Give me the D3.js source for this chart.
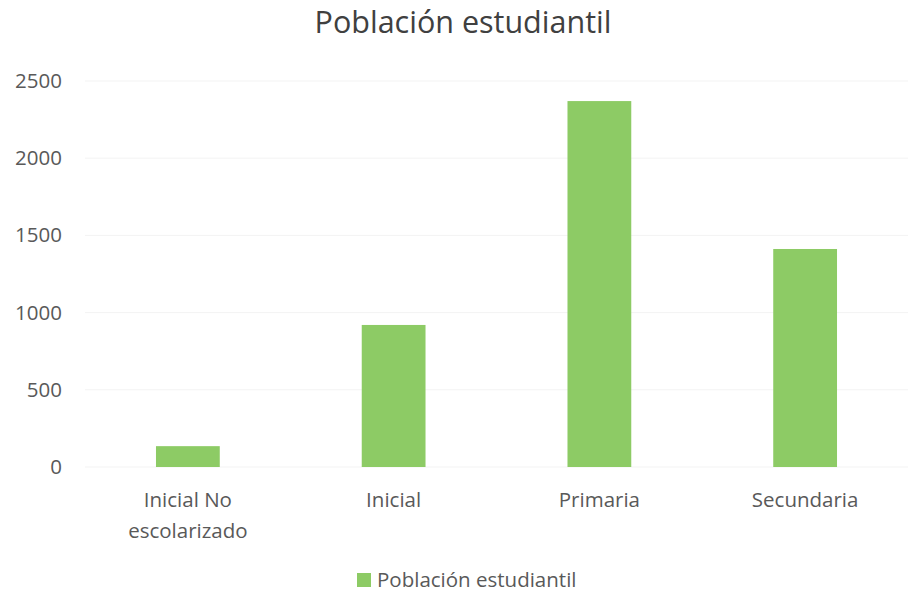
<!DOCTYPE html>
<html>
<head>
<meta charset="utf-8">
<script src="https://cdn.jsdelivr.net/npm/d3@7"></script>
<style>
  body { margin: 0; background: #fff; }
  text { font-family: "Open Sans", Lato, sans-serif; }
</style>
</head>
<body>
<div id="chart"></div>
<script>
const categories = ["Inicial No escolarizado", "Inicial", "Primaria", "Secundaria"];
const categoryLines = [["Inicial No", "escolarizado"], ["Inicial"], ["Primaria"], ["Secundaria"]];
const values = [135, 920, 2370, 1412];
const yTicks = [0, 500, 1000, 1500, 2000, 2500];
const seriesName = "Población estudiantil";
const chartTitle = "Población estudiantil";

const width = 921, height = 595;
const margin = { top: 81, right: 13, bottom: 128, left: 85 };
const innerW = width - margin.left - margin.right;
const innerH = height - margin.top - margin.bottom;
const barColor = "#8dcb65";
const textColor = "#595959";

const svg = d3.select("#chart").append("svg")
  .attr("width", width)
  .attr("height", height);

const g = svg.append("g")
  .attr("transform", `translate(${margin.left},${margin.top})`);

const x = d3.scaleBand()
  .domain(categories)
  .range([0, innerW])
  .paddingInner(0.69)
  .paddingOuter(0.345);

const y = d3.scaleLinear()
  .domain([0, 2500])
  .range([innerH, 0]);

// faint gridlines
g.selectAll(".grid")
  .data(yTicks)
  .join("line")
  .attr("x1", 0)
  .attr("x2", innerW)
  .attr("y1", d => y(d))
  .attr("y2", d => y(d))
  .attr("stroke", "#f3f3f3")
  .attr("stroke-width", 1);

// y axis labels
const yAxis = g.append("g")
  .call(d3.axisLeft(y).tickValues(yTicks).tickFormat(d3.format("d")).tickSize(0).tickPadding(23));
yAxis.select(".domain").remove();
yAxis.selectAll("text")
  .style("font-size", "20.5px")
  .attr("fill", textColor);

// bars
g.selectAll(".bar")
  .data(values)
  .join("rect")
  .attr("x", (d, i) => x(categories[i]))
  .attr("y", d => y(d))
  .attr("width", x.bandwidth())
  .attr("height", d => innerH - y(d))
  .attr("fill", barColor);

// x labels
const xAxis = g.append("g")
  .attr("transform", `translate(0,${innerH})`)
  .call(d3.axisBottom(x).tickSize(0).tickFormat(""));
xAxis.select(".domain").remove();
xAxis.selectAll(".tick").each(function(d, i) {
  const t = d3.select(this).append("text")
    .attr("text-anchor", "middle")
    .attr("fill", textColor)
    .style("font-size", "20.5px");
  categoryLines[i].forEach((line, k) => {
    t.append("tspan")
      .attr("x", 0)
      .attr("y", 40 + k * 31)
      .text(line);
  });
});

// title
svg.append("text")
  .attr("x", 463)
  .attr("y", 33)
  .attr("text-anchor", "middle")
  .attr("fill", "#404040")
  .style("font-size", "30.5px")
  .text(chartTitle);

// legend
const legend = svg.append("g").attr("transform", "translate(357,573)");
legend.append("rect")
  .attr("width", 14)
  .attr("height", 14)
  .attr("fill", barColor);
legend.append("text")
  .attr("x", 20)
  .attr("y", 14)
  .attr("fill", textColor)
  .style("font-size", "20.5px")
  .text(seriesName);
</script>
</body>
</html>
